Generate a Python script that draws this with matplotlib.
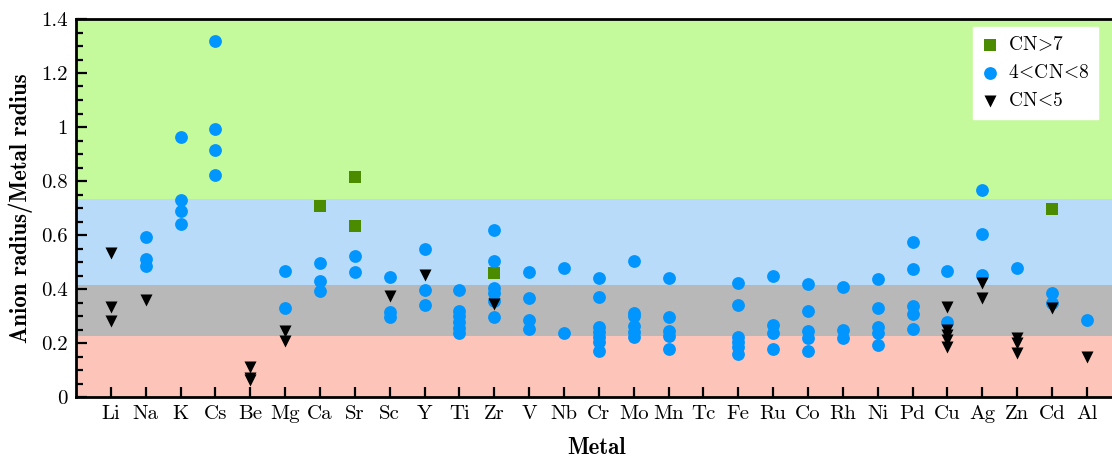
import matplotlib
matplotlib.use("Agg")
import matplotlib.pyplot as plt
from matplotlib.ticker import MultipleLocator, FuncFormatter

plt.rcParams["font.family"] = "serif"
plt.rcParams["font.serif"] = ["cmr10"]
plt.rcParams["mathtext.fontset"] = "cm"
plt.rcParams["axes.formatter.use_mathtext"] = True

metals = ["Li", "Na", "K", "Cs", "Be", "Mg", "Ca", "Sr", "Sc", "Y", "Ti", "Zr",
          "V", "Nb", "Cr", "Mo", "Mn", "Tc", "Fe", "Ru", "Co", "Rh", "Ni", "Pd",
          "Cu", "Ag", "Zn", "Cd", "Al"]

# radius ratios, high coordination (CN > 7)
cn_high = {
    "Ca": [0.706],
    "Sr": [0.814, 0.635],
    "Zr": [0.461],
    "Cd": [0.696],
}

# radius ratios, intermediate coordination (4 < CN < 8)
cn_mid = {
    "Na": [0.591, 0.511, 0.486],
    "K": [0.964, 0.730, 0.688, 0.641],
    "Cs": [1.320, 0.991, 0.916, 0.821],
    "Mg": [0.468, 0.328],
    "Ca": [0.495, 0.431, 0.394],
    "Sr": [0.523, 0.463],
    "Sc": [0.446, 0.314, 0.297],
    "Y": [0.548, 0.395, 0.341],
    "Ti": [0.396, 0.317, 0.300, 0.277, 0.257, 0.237],
    "Zr": [0.619, 0.502, 0.405, 0.384, 0.355, 0.295],
    "V": [0.463, 0.367, 0.285, 0.252],
    "Nb": [0.477, 0.237],
    "Cr": [0.442, 0.372, 0.260, 0.242, 0.223, 0.204, 0.169],
    "Mo": [0.504, 0.312, 0.301, 0.264, 0.241, 0.223],
    "Mn": [0.441, 0.297, 0.244, 0.226, 0.179],
    "Fe": [0.421, 0.339, 0.223, 0.205, 0.186, 0.159],
    "Ru": [0.449, 0.267, 0.236, 0.179],
    "Co": [0.420, 0.319, 0.246, 0.220, 0.172],
    "Rh": [0.406, 0.248, 0.217],
    "Ni": [0.438, 0.330, 0.258, 0.238, 0.193],
    "Pd": [0.574, 0.473, 0.338, 0.307, 0.252],
    "Cu": [0.467, 0.279],
    "Ag": [0.768, 0.604, 0.452],
    "Zn": [0.478],
    "Cd": [0.384, 0.347],
    "Al": [0.285],
}

# radius ratios, low coordination (CN < 5)
cn_low = {
    "Li": [0.535, 0.335, 0.280],
    "Na": [0.359],
    "Be": [0.111, 0.072, 0.064],
    "Mg": [0.244, 0.209],
    "Sc": [0.375],
    "Y": [0.451],
    "Zr": [0.343],
    "Cu": [0.332, 0.248, 0.230, 0.211, 0.186],
    "Ag": [0.421, 0.368],
    "Zn": [0.217, 0.199, 0.164],
    "Cd": [0.328],
    "Al": [0.147],
}

# radius-ratio limits separating the shaded regions
band_edges = [0.0, 0.225, 0.414, 0.732, 1.4]
band_colors = ["#fdc5b9", "#b8b8b8", "#b8dbfa", "#c4f99c"]


def flatten(groups):
    xs, ys = [], []
    for name, vals in groups.items():
        pos = metals.index(name) + 1
        for v in vals:
            xs.append(pos)
            ys.append(v)
    return xs, ys


W, H = 1112, 457
fig = plt.figure(figsize=(W / 100, H / 100), dpi=100)
ax = fig.add_axes([76 / W, 60 / H, 1 - 76 / W, 378 / H])

for lo, hi, col in zip(band_edges[:-1], band_edges[1:], band_colors):
    ax.axhspan(lo, hi, color=col, lw=0, zorder=0)

x, y = flatten(cn_high)
ax.scatter(x, y, marker="s", s=66, color="#4b8b00", lw=0, zorder=3,
           label=r"$\mathrm{CN}\!>\!7$")
x, y = flatten(cn_mid)
ax.scatter(x, y, marker="o", s=85, color="#0095ff", lw=0, zorder=3,
           label=r"$4\!<\!\mathrm{CN}\!<\!8$")
x, y = flatten(cn_low)
ax.scatter(x, y, marker="v", s=75, color="black", lw=0, zorder=4,
           label=r"$\mathrm{CN}\!<\!5$")

ax.set_xlim(0, 29.72)
ax.set_ylim(0, 1.4)
ax.set_xticks(range(1, len(metals) + 1))
ax.set_xticklabels(metals)
ax.yaxis.set_major_locator(MultipleLocator(0.2))
ax.yaxis.set_minor_locator(MultipleLocator(0.05))
ax.yaxis.set_major_formatter(FuncFormatter(lambda v, p: "%g" % round(v, 2)))

ax.tick_params(axis="both", which="both", direction="in", labelsize=15,
               width=1.6)
ax.tick_params(axis="y", which="major", length=8, pad=6)
ax.tick_params(axis="y", which="minor", length=5)
ax.tick_params(axis="x", which="major", length=7, pad=6)

for side in ("left", "bottom", "top"):
    ax.spines[side].set_linewidth(2)
ax.spines["right"].set_visible(False)

ax.set_xlabel("Metal", fontsize=16.5, fontfamily="cmb10")
ax.set_ylabel("Anion radius/Metal radius", fontsize=16.5, fontfamily="cmb10")
ax.xaxis.set_label_coords((597 - 76) / 1036, (397 - 437) / 378)
ax.yaxis.set_label_coords((33 - 76) / 1036, 0.5)

leg = ax.legend(loc="upper right", bbox_to_anchor=(1098 / W, 1 - 27 / H),
                bbox_transform=fig.transFigure, borderaxespad=0,
                frameon=True, fancybox=False, fontsize=14,
                handletextpad=0.45, borderpad=0.45, labelspacing=0.5,
                handlelength=0.9)
leg.get_frame().set_facecolor("white")
leg.get_frame().set_edgecolor("white")
leg.get_frame().set_alpha(1)

fig.savefig("out.png", dpi=100)
